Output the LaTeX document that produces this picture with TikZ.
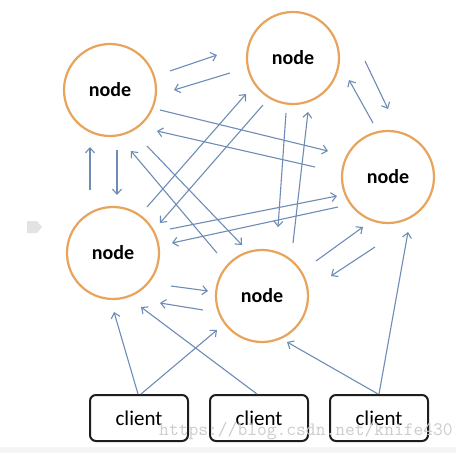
\documentclass[tikz,border=0pt]{standalone}
\usepackage{fontspec}
\setmainfont{Carlito}
\usetikzlibrary{arrows.meta}
\definecolor{ringorange}{HTML}{E8A45C}
\definecolor{linkblue}{HTML}{6E8DB6}
\definecolor{boxline}{HTML}{1E1E1E}
\tikzset{
  peer/.style={circle, draw=ringorange, line width=2.2pt, minimum size=92pt,
    inner sep=0pt, font=\fontsize{20}{24}\selectfont\bfseries},
  clientbox/.style={draw=boxline, line width=2pt, rounded corners=6pt,
    minimum width=98pt, minimum height=46pt, inner sep=0pt,
    font=\fontsize{21}{25}\selectfont},
  link/.style={draw=linkblue, line width=1.1pt,
    -{Straight Barb[length=5pt,width=9pt,line width=1.1pt]}}
}
\begin{document}
\begin{tikzpicture}[x=1pt,y=-1pt]
  \useasboundingbox[fill=white] (0,0) rectangle (467,453);
  % faint strip along the lower edge
  \fill[gray!8] (0,447) rectangle (456,453);
  % small gray tag on the left margin
  \fill[gray!22] (27,221) -- (37,221) -- (42,227) -- (37,233) -- (27,233) -- cycle;

  % cluster nodes
  \node[peer] (A) at (110,90)  {node};
  \node[peer] (B) at (293,58)  {node};
  \node[peer] (C) at (388,177) {node};
  \node[peer] (D) at (113,253) {node};
  \node[peer] (E) at (262,296) {node};

  % clients
  \node[clientbox] (c1) at (139,418) {client};
  \node[clientbox] (c2) at (259,418) {client};
  \node[clientbox] (c3) at (379,418) {client};

  % end points of the links between nodes
  \coordinate (ab1) at (170,71);  \coordinate (ab2) at (217,55);
  \coordinate (ba1) at (230,73);  \coordinate (ba2) at (174,90);
  \coordinate (bc1) at (365,61);  \coordinate (bc2) at (388,109);
  \coordinate (cb1) at (373,123); \coordinate (cb2) at (349,80);
  \coordinate (ac1) at (160,110); \coordinate (ac2) at (328,151);
  \coordinate (ca1) at (315,167); \coordinate (ca2) at (157,131);
  \coordinate (da1) at (90,190);  \coordinate (da2) at (90,147);
  \coordinate (ad1) at (117,150); \coordinate (ad2) at (117,195);
  \coordinate (db1) at (147,207); \coordinate (db2) at (246,94);
  \coordinate (bd1) at (263,105); \coordinate (bd2) at (160,223);
  \coordinate (ea1) at (217,253); \coordinate (ea2) at (131,151);
  \coordinate (ae1) at (147,146); \coordinate (ae2) at (242,245);
  \coordinate (be1) at (286,113); \coordinate (be2) at (278,227);
  \coordinate (eb1) at (293,243); \coordinate (eb2) at (308,112);
  \coordinate (dc1) at (170,229); \coordinate (dc2) at (337,196);
  \coordinate (cd1) at (338,207); \coordinate (cd2) at (172,243);
  \coordinate (ec1) at (316,261); \coordinate (ec2) at (363,227);
  \coordinate (ce1) at (375,247); \coordinate (ce2) at (331,276);
  \coordinate (de1) at (171,286); \coordinate (de2) at (208,291);
  \coordinate (ed1) at (203,310); \coordinate (ed2) at (160,303);
  % end points of the client links
  \coordinate (c1d) at (114,312); \coordinate (c1e) at (217,330);
  \coordinate (c2d) at (141,307); \coordinate (c3e) at (287,342);
  \coordinate (c3c) at (408,232);

  % links between nodes
  \foreach \p in {ab,ba,bc,cb,ac,ca,da,ad,db,bd,ea,ae,be,eb,dc,cd,ec,ce,de,ed}
    \draw[link] (\p1) -- (\p2);

  % client links
  \draw[link] ([xshift=-1pt]c1.north) -- (c1d);
  \draw[link] ([xshift=2pt]c1.north) -- (c1e);
  \draw[link] ([xshift=-2pt]c2.north) -- (c2d);
  \draw[link] ([xshift=-1pt]c3.north) -- (c3e);
  \draw[link] (c3.north) -- (c3c);

  % watermark
  \node[text=gray!40, font=\fontsize{19}{22}\ttfamily] (wm) at (306,431)
    {https://blog.csdn.net/knife430};
\end{tikzpicture}
\end{document}
